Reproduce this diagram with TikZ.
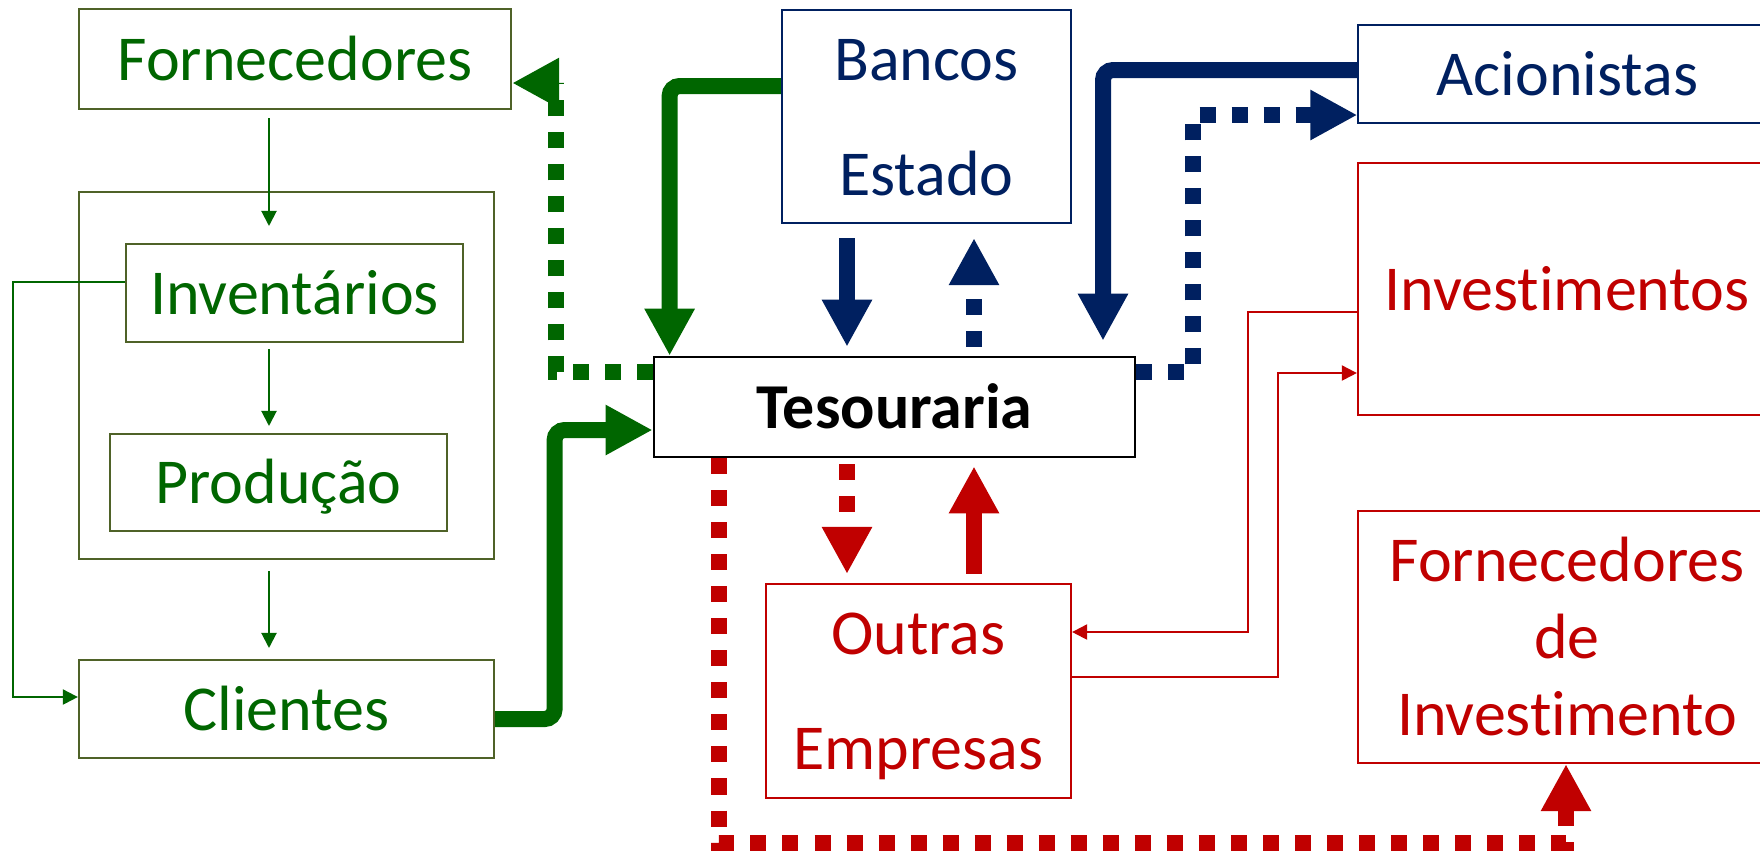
\documentclass[tikz,border=0pt]{standalone}
\usepackage{fontspec}
\setmainfont{Carlito}[Ligatures={NoCommon,NoRare,NoContextual}]
\usetikzlibrary{arrows.meta,calc}
\definecolor{gtext}{RGB}{0,102,0}
\definecolor{gbord}{RGB}{79,98,40}
\definecolor{navy}{RGB}{0,32,96}
\definecolor{dred}{RGB}{192,0,0}
\newcommand\lstr{\rule[-0.15cm]{0pt}{0.72cm}}
\begin{document}
\begin{tikzpicture}[x=0.01cm,y=-0.01cm,
  box/.style={draw, line width=0.02cm, inner sep=0pt, align=center,
    font=\fontsize{18.2}{21.9}\selectfont},
  gbox/.style={box, draw=gbord, text=gtext},
  nbox/.style={box, draw=navy, text=navy},
  rbox/.style={box, draw=dred, text=dred},
  tbox/.style={box, draw=black, line width=0.025cm, text=black,
    font=\fontsize{18.2}{21.9}\selectfont\bfseries},
  twoline/.style={font=\fontsize{18.2}{32.7}\selectfont},
  fat/.style={line width=0.16cm, rounded corners=0.1cm,
    -{Triangle[length=0.47cm,width=0.47cm]}},
  dots/.style={dash pattern=on 0.16cm off 0.16cm},
  slim/.style={line width=0.02cm, -{Triangle[length=0.15cm,width=0.15cm]}},
]
\useasboundingbox (0,0) rectangle (1760,850);
\clip (0,0) rectangle (1760,850);

% boxes
\node[gbox, minimum width=4.32cm, minimum height=1cm] (forn) at (295,59) {\lstr Fornecedores};
\node[gbox, minimum width=4.15cm, minimum height=3.67cm] (grp) at (286.5,375.5) {};
\node[gbox, minimum width=3.37cm, minimum height=0.98cm] (inv) at (294.5,293) {\lstr Inventários};
\node[gbox, minimum width=3.37cm, minimum height=0.97cm] (prod) at (278.5,482.5) {\lstr Produção};
\node[gbox, minimum width=4.15cm, minimum height=0.98cm] (cli) at (286.5,709) {\lstr Clientes};
\node[tbox, minimum width=4.81cm, minimum height=1cm] (tes) at (894.5,407) {\lstr Tesouraria};
\node[nbox, twoline, minimum width=2.89cm, minimum height=2.13cm] (bancos) at (926.5,116.5) {\lstr Bancos\\\lstr Estado};
\node[nbox, minimum width=4.18cm, minimum height=0.98cm] (acio) at (1567.5,74) {\lstr Acionistas};
\node[rbox, minimum width=4.18cm, minimum height=2.52cm] (invest) at (1567,289) {\lstr Invest\kern0pt imentos};
\node[rbox, minimum width=4.18cm, minimum height=2.52cm] (fi) at (1567,637) {\lstr Fornecedores\\\lstr de\\\lstr Invest\kern0pt imento};
\node[rbox, twoline, minimum width=3.05cm, minimum height=2.14cm] (outras) at (918.5,691) {\lstr Outras\\\lstr Empresas};

% green thin flow
\draw[slim, gtext] ($(forn.south)+(-26,8)$) -- ($(inv.north)+(-25.5,-17)$);
\draw[slim, gtext] ($(inv.south)+(-25.5,6)$) -- ($(prod.north)+(-9.5,-7)$);
\draw[slim, gtext] ($(grp.south)+(-17.5,11)$) -- ($(cli.north)+(-17.5,-11)$);
\draw[slim, gtext] ($(inv.west)+(0,-11)$) -| ($(cli.west)+(-65,-12)$) -- ($(cli.west)+(0,-12)$);

% green thick
\draw[fat, gtext] ($(bancos.west)+(0,-30.5)$) -| ($(tes.north west)+(17,0)$);
\draw[fat, gtext] ($(cli.east)+(0,10)$) -| ($(tes.west)+(-98,23)$) -- ($(tes.west)+(0,23)$);
\draw[fat, dots, gtext, rounded corners=0pt] ($(tes.west)+(0,-35)$) -| ($(forn.east)+(44,24)$) -- ($(forn.east)+(0,24)$);

% navy
\draw[fat, navy] ($(bancos.south)+(-79.5,14)$) -- ($(tes.north)+(-47.5,-9)$);
\draw[fat, dots, navy] ($(tes.north)+(79.5,-9)$) -- ($(bancos.south)+(47.5,14)$);
\draw[fat, navy] ($(acio.west)+(0,-4)$) -| ($(tes.north)+(208.5,-15)$);
\draw[fat, dots, navy, rounded corners=0pt] ($(tes.east)+(0,-35)$) -| ($(acio.west)+(-164.5,41)$) -- ($(acio.west)+(0,41)$);

% red
\draw[fat, dots, dred] ($(tes.south)+(-47.5,6)$) -- ($(outras.north)+(-71.5,-9)$);
\draw[fat, dred] ($(outras.north)+(55.5,-9)$) -- ($(tes.south)+(79.5,8)$);
\draw[fat, dots, dred, rounded corners=0pt] ($(tes.south)+(-175.5,0)$) |- ($(fi.south)+(-1,79)$) -- ($(fi.south)+(-1,0)$);
\draw[slim, dred] ($(invest.west)+(0,23)$) -| ($(outras.east)+(176,-59)$) -- ($(outras.east)+(0,-59)$);
\draw[slim, dred] ($(outras.east)+(0,-14)$) -| ($(invest.west)+(-79,84)$) -- ($(invest.west)+(0,84)$);
\end{tikzpicture}
\end{document}
